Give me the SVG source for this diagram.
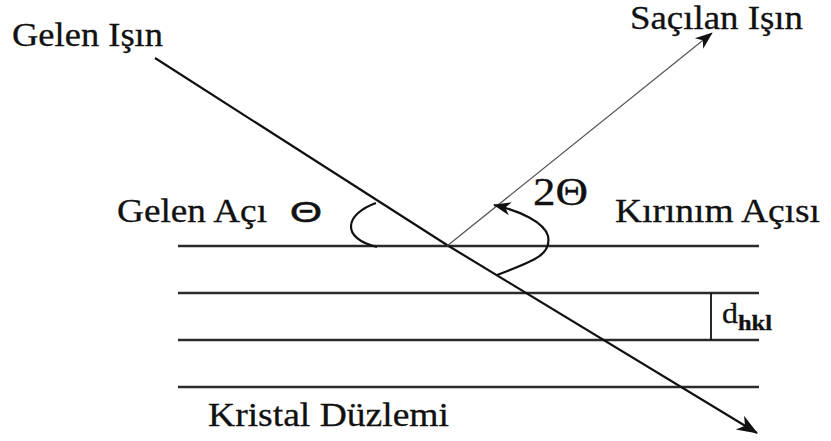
<svg xmlns="http://www.w3.org/2000/svg" width="831" height="441" viewBox="0 0 831 441">
<defs>
<marker id="arrow" viewBox="-22 -10 24 20" refX="0" refY="0" markerUnits="userSpaceOnUse" markerWidth="24" markerHeight="20" orient="auto">
<path d="M1,0 L-20,-8 L-14,0 L-20,8 Z" fill="#111"/>
</marker>
<marker id="arrowS" viewBox="-22 -10 24 20" refX="0" refY="0" markerUnits="userSpaceOnUse" markerWidth="20" markerHeight="17" orient="auto">
<path d="M1,0 L-20,-8 L-14,0 L-20,8 Z" fill="#111"/>
</marker>
<style>
.t{font-family:"Liberation Serif","Times New Roman",serif;font-size:33px;fill:#111;stroke:#111;stroke-width:0.3}
.plane{stroke:#2a2a2a;stroke-width:2.4;fill:none}
.ray{stroke:#111;stroke-width:2.2;fill:none}
.thin{stroke:#555;stroke-width:1.2;fill:none}
.arc{stroke:#111;stroke-width:2.2;fill:none}
</style>
</defs>
<rect width="831" height="441" fill="#fff"/>

<g id="planes">
<line class="plane" x1="178" y1="246" x2="759" y2="246"/>
<line class="plane" x1="178" y1="293" x2="759" y2="293"/>
<line class="plane" x1="178" y1="340" x2="759" y2="340"/>
<line class="plane" x1="178" y1="387" x2="759" y2="387"/>
</g>

<g id="connectors">
<path id="incident-ray" class="ray" d="M155,58 L447,245 L757,433" marker-end="url(#arrow)"/>
<path id="scattered-ray" class="thin" d="M447,246 L712,33" marker-end="url(#arrowS)"/>
<path id="incident-angle-arc" class="arc" d="M376,203 C345,214 340,238 377,247"/>
<path id="diffraction-angle-arc" class="arc" d="M497,275 C530,262 552,256 548,236 C544,222 520,211 494,205" marker-end="url(#arrowS)"/>
<line id="d-spacing" x1="711" y1="293" x2="711" y2="340" stroke="#111" stroke-width="1.8"/>
</g>

<g id="label-gelen-isin"><text class="t" x="12" y="46" textLength="151" lengthAdjust="spacingAndGlyphs">Gelen Işın</text></g>
<g id="label-sacilan-isin"><text class="t" x="630" y="29" textLength="173" lengthAdjust="spacingAndGlyphs">Saçılan Işın</text></g>
<g id="label-gelen-aci"><text class="t" x="117" y="222" textLength="150" lengthAdjust="spacingAndGlyphs">Gelen Açı</text>
<text x="290" y="222" style="font-family:'Liberation Sans',Arial,sans-serif;font-size:29px;fill:#111;stroke:#111;stroke-width:0.6" textLength="32" lengthAdjust="spacingAndGlyphs">Θ</text></g>
<g id="label-2theta"><text class="t" x="533" y="205" style="font-size:40px" textLength="55" lengthAdjust="spacingAndGlyphs">2Θ</text></g>
<g id="label-kirinim-acisi"><text class="t" x="615" y="222" textLength="205" lengthAdjust="spacingAndGlyphs">Kırınım Açısı</text></g>
<g id="label-dhkl"><text class="t" x="722" y="323" style="font-size:29px" textLength="16" lengthAdjust="spacingAndGlyphs">d</text>
<text class="t" x="738" y="330" style="font-size:20px;font-weight:bold" textLength="34" lengthAdjust="spacingAndGlyphs">hkl</text></g>
<g id="label-kristal-duzlemi"><text class="t" x="208" y="426" textLength="241" lengthAdjust="spacingAndGlyphs">Kristal Düzlemi</text></g>
</svg>
